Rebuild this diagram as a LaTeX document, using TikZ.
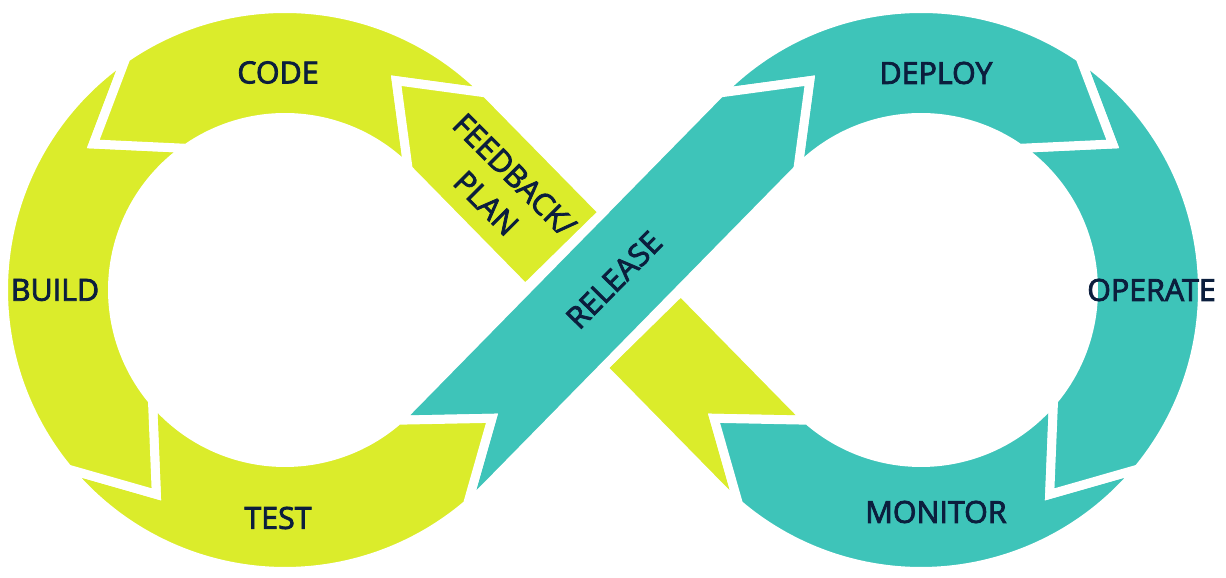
\documentclass[tikz,border=0pt]{standalone}
\usepackage{fontspec}
\setmainfont{Open Sans}
\newfontfamily\stagefont{Open Sans}[FakeBold=2.6]
\usepackage{xcolor}
\usetikzlibrary{calc}
\definecolor{devyellow}{HTML}{DBEC2B}
\definecolor{devteal}{HTML}{3EC4B9}
\definecolor{devnavy}{HTML}{0B1E3D}

\begin{document}
\begin{tikzpicture}[
  seg/.style={draw=white, line width=0.18cm, line join=miter},
  plan/.style={seg, fill=devyellow},
  ops/.style={seg, fill=devteal},
  stage/.style={font=\stagefont\fontsize{17.3}{22.8}\selectfont, text=devnavy,
    inner sep=0pt, align=center}
]
\useasboundingbox (0,0) rectangle (24.52,11.56);
\coordinate (L) at (5.70,5.76);
\coordinate (R) at (18.42,5.76);
\coordinate (M) at (12.06,5.76);
\def\ro{5.63}
\def\ri{3.45}

% feedback, lower part
\draw[plan] ($(M)+(-45.56:1.11)+(44.44:1.09)$) -- ([shift={(R)}]-135.56:\ri)
  arc[start angle=-135.56, end angle=-131, radius=\ri]
  -- ([shift={(R)}]211.8:4.87) -- ([shift={(R)}]-130.4:\ro)
  arc[start angle=-130.4, end angle=-135.56, radius=\ro]
  -- ($(M)+(-45.56:1.11)+(224.44:1.09)$) -- cycle;
% right loop
\draw[ops] ([shift={(R)}]-39.5:\ro) arc[start angle=-39.5, end angle=-130.4, radius=\ro]
  -- ([shift={(R)}]211.8:4.87) -- ([shift={(R)}]-131:\ri)
  arc[start angle=-131, end angle=-39.8, radius=\ri]
  -- ([shift={(R)}]-57.8:4.83) -- cycle;
\draw[ops] ([shift={(R)}]55.6:\ro) arc[start angle=55.6, end angle=-39.5, radius=\ro]
  -- ([shift={(R)}]-57.8:4.83) -- ([shift={(R)}]-39.8:\ri)
  arc[start angle=-39.8, end angle=55.2, radius=\ri]
  -- ([shift={(R)}]37.3:4.82) -- cycle;
\draw[ops] ([shift={(R)}]135.56:\ro) arc[start angle=135.56, end angle=55.6, radius=\ro]
  -- ([shift={(R)}]37.3:4.82) -- ([shift={(R)}]55.2:\ri)
  arc[start angle=55.2, end angle=135.56, radius=\ri]
  -- ([shift={(R)}]118:4.74) -- cycle;
% release band
\draw[ops] ([shift={(L)}]310.4:\ro) arc[start angle=310.4, end angle=315.56, radius=\ro]
  -- ([shift={(R)}]135.56:\ri) -- ([shift={(R)}]118:4.74) -- ([shift={(R)}]135.56:\ro)
  -- ([shift={(L)}]315.56:\ri) arc[start angle=315.56, end angle=311, radius=\ri]
  -- ([shift={(L)}]328.2:4.87) -- cycle;
% left loop
\draw[plan] ([shift={(L)}]219.5:\ro) arc[start angle=219.5, end angle=310.4, radius=\ro]
  -- ([shift={(L)}]328.2:4.87) -- ([shift={(L)}]311:\ri)
  arc[start angle=311, end angle=219.8, radius=\ri]
  -- ([shift={(L)}]237.8:4.83) -- cycle;
\draw[plan] ([shift={(L)}]124.4:\ro) arc[start angle=124.4, end angle=219.5, radius=\ro]
  -- ([shift={(L)}]237.8:4.83) -- ([shift={(L)}]219.8:\ri)
  arc[start angle=219.8, end angle=124.8, radius=\ri]
  -- ([shift={(L)}]142.7:4.82) -- cycle;
\draw[plan] ([shift={(L)}]44.44:\ro) arc[start angle=44.44, end angle=124.4, radius=\ro]
  -- ([shift={(L)}]142.7:4.82) -- ([shift={(L)}]124.8:\ri)
  arc[start angle=124.8, end angle=44.44, radius=\ri]
  -- ([shift={(L)}]62:4.74) -- cycle;
% feedback, upper part
\draw[plan] ([shift={(L)}]44.44:\ro) -- ($(M)+(134.44:1.11)+(44.44:1.09)$)
  -- ($(M)+(134.44:1.11)+(224.44:1.09)$) -- ([shift={(L)}]44.44:\ri)
  -- ([shift={(L)}]62:4.74) -- cycle;

\node[stage] (code) at (5.56,10.11) {CODE};
\node[stage] (build) at (1.10,5.76) {BUILD};
\node[stage] (test) at (5.56,1.20) {TEST};
\node[stage, rotate=45.56] (release) at (12.28,5.96) {RELEASE};
\node[stage] (deploy) at (18.72,10.10) {DEPLOY};
\node[stage] (operate) at (23.03,5.76) {OPERATE};
\node[stage] (monitor) at (18.72,1.32) {MONITOR};
\node[stage, rotate=-45] (feedback) at (10.01,7.78) {FEEDBACK/\\PLAN};
\end{tikzpicture}
\end{document}
